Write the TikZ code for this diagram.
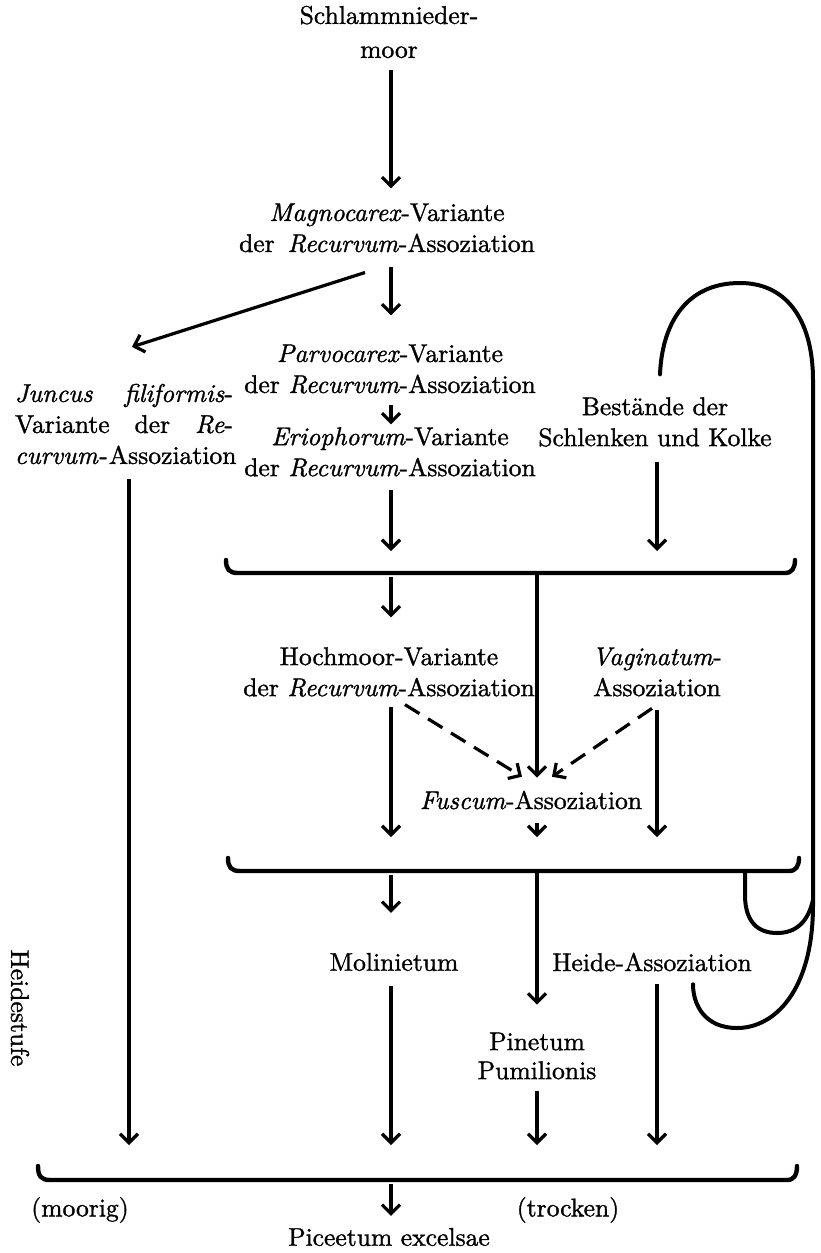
\documentclass[tikz,border=0pt]{standalone}
\usepackage{fontspec}
\setmainfont{lmroman10-regular.otf}[ItalicFont=lmroman10-italic.otf, FakeBold=1.2]
\usetikzlibrary{arrows.meta,calc}
\begin{document}
\begin{tikzpicture}[x=1pt,y=-1pt,
  txt/.style={font=\fontsize{25.6}{31}\selectfont, align=center, inner sep=0pt, outer sep=0pt},
  arr/.style={line width=3.2pt, -{Straight Barb[length=9pt,width=18pt]}},
  dsh/.style={arr, dash pattern=on 17pt off 10pt},
  brk/.style={line width=4.4pt, line cap=round},
  lp/.style={line width=4pt, line cap=round},
]
\useasboundingbox (0,0) rectangle (820,1253);
% columns and bracket levels
\coordinate (c1) at (129,0);
\coordinate (c2) at (391,0);
\coordinate (c3) at (537,0);
\coordinate (c4) at (657,0);
\coordinate (c5) at (745,0);
\coordinate (br1) at (0,573);
\coordinate (br2) at (0,871);
\coordinate (br3) at (0,1180);

% texts
\node[txt, font=\fontsize{25.6}{34}\selectfont] (schlamm) at (389,32) {Schlammnieder-\\moor};
\node[txt] (magno) at (387,228) {\textit{Magnocarex}-Variante\\der\ \,\textit{Recurvum}-Assoziation};
\node[txt] (parvo) at (390,369) {\textit{Parvocarex}-Variante\\der \textit{Recurvum}-Assoziation};
\node[txt] (erio) at (390,452) {\textit{Eriophorum}-Variante\\der \textit{Recurvum}-Assoziation};
\node[txt, align=left, anchor=west] (juncus) at (15,424) {\makebox[218pt][s]{\textit{Juncus} \textit{filiformis}-}\\\makebox[218pt][s]{Variante der \textit{Re}-}\\\makebox[218pt][s]{\textit{curvum}\hspace{1pt plus 4pt}-\hspace{1pt plus 4pt}Assoziation}};
\node[txt] (best) at (655,422) {Bestände der\\Schlenken und Kolke};
\node[txt] (hoch) at (389,672) {Hochmoor-Variante\\der \textit{Recurvum}-Assoziation};
\node[txt] (vagin) at (657,672) {\textit{Vaginatum}-\\Assoziation};
\node[txt] (fuscum) at (531,800) {\textit{Fuscum}-Assoziation};
\node[txt] (molin) at (394,962) {Molinietum};
\node[txt] (heide) at (652,962) {Heide-Assoziation};
\node[txt, font=\fontsize{25.6}{29}\selectfont] (pinetum) at (537,1056) {Pinetum\\Pumilionis};
\node[txt] (heidestufe) at (20,1008) [rotate=-90] {Heidestufe};
\node[txt] (moorig) at (80,1210) {(moorig)};
\node[txt] (trocken) at (568,1210) {(trocken)};
\node[txt] (piceetum) at (389,1237) {Piceetum excelsae};

% brackets
\draw[brk] (226,560) .. controls (226,569) and (229,573) .. (238,573) -- (785,573) .. controls (792,573) and (795,568) .. (795,560);
\draw[brk] (228,858) .. controls (228,867) and (231,871) .. (240,871) -- (789,871) .. controls (796,871) and (799,866) .. (799,858);
\draw[brk] (38,1166) .. controls (38,1176) and (41,1180) .. (50,1180) -- (787,1180) .. controls (794,1180) and (797,1175) .. (797,1166);

% arrows
\draw[arr, shorten <=12pt, shorten >=15pt] (schlamm.south -| c2) -- (magno.north -| c2);
\draw[arr, shorten <=14pt, shorten >=29pt] (magno.south -| c2) -- (parvo.north -| c2);
\draw[arr] ($(magno.south)+(-22,20)$) -- ($(juncus.north)+(8,-37)$);
\draw[arr, shorten <=11pt, shorten >=3pt] (parvo.south -| c2) -- (erio.north -| c2);
\draw[arr, shorten <=13pt, shorten >=22pt] (erio.south -| c2) -- (br1 -| c2);
\draw[arr, shorten <=15pt, shorten >=22pt] (best.south -| c4) -- (br1 -| c4);
\draw[arr, shorten <=4pt, shorten >=30pt] (br1 -| c2) -- (hoch.north -| c2);
\draw[arr, shorten >=13pt] (br1 -| c3) -- (fuscum.north -| c3);
\draw[arr, shorten <=10pt, shorten >=34pt] (hoch.south -| c2) -- (br2 -| c2);
\draw[arr, shorten <=14pt, shorten >=34pt] (vagin.south -| c4) -- (br2 -| c4);
\draw[dsh] ($(hoch.south)+(16,8)$) -- ($(fuscum.north)+(-9,-14)$);
\draw[dsh] ($(vagin.south)+(-5,12)$) -- ($(fuscum.north)+(21,-14)$);
\draw[arr, shorten <=14pt, shorten >=34pt] (fuscum.south -| c3) -- (br2 -| c3);
\draw[arr, shorten <=4pt, shorten >=40pt] (br2 -| c2) -- (molin.north -| c2);
\draw[arr, shorten >=28pt] (br2 -| c3) -- (pinetum.north -| c3);
\draw[arr, shorten <=15pt, shorten >=35pt] (molin.south -| c2) -- (br3 -| c2);
\draw[arr, shorten <=12pt, shorten >=35pt] (pinetum.south -| c3) -- (br3 -| c3);
\draw[arr, shorten <=13pt, shorten >=35pt] (heide.south -| c4) -- (br3 -| c4);
\draw[arr, shorten <=15pt, shorten >=35pt] (juncus.south -| c1) -- (br3 -| c1);
\draw[arr, shorten <=4pt, shorten >=12pt] (br3 -| c2) -- (piceetum.north -| c2);

% loop between Heide-Assoziation and Schlenken
\draw[lp] ($(best.north)+(5,-23)$) .. controls (662,325) and (685,283) .. (740,283) .. controls (790,283) and (813,325) .. (813,380) -- (813,905) .. controls (813,990) and (775,1028) .. (737,1028) .. controls (705,1028) and (693,1005) .. ($(heide.south)+(41,13)$);
\draw[lp] (br2 -| c5) -- (745,895) .. controls (745,922) and (758,933) .. (777,933) .. controls (796,933) and (808,922) .. (813,900);
\end{tikzpicture}
\end{document}
